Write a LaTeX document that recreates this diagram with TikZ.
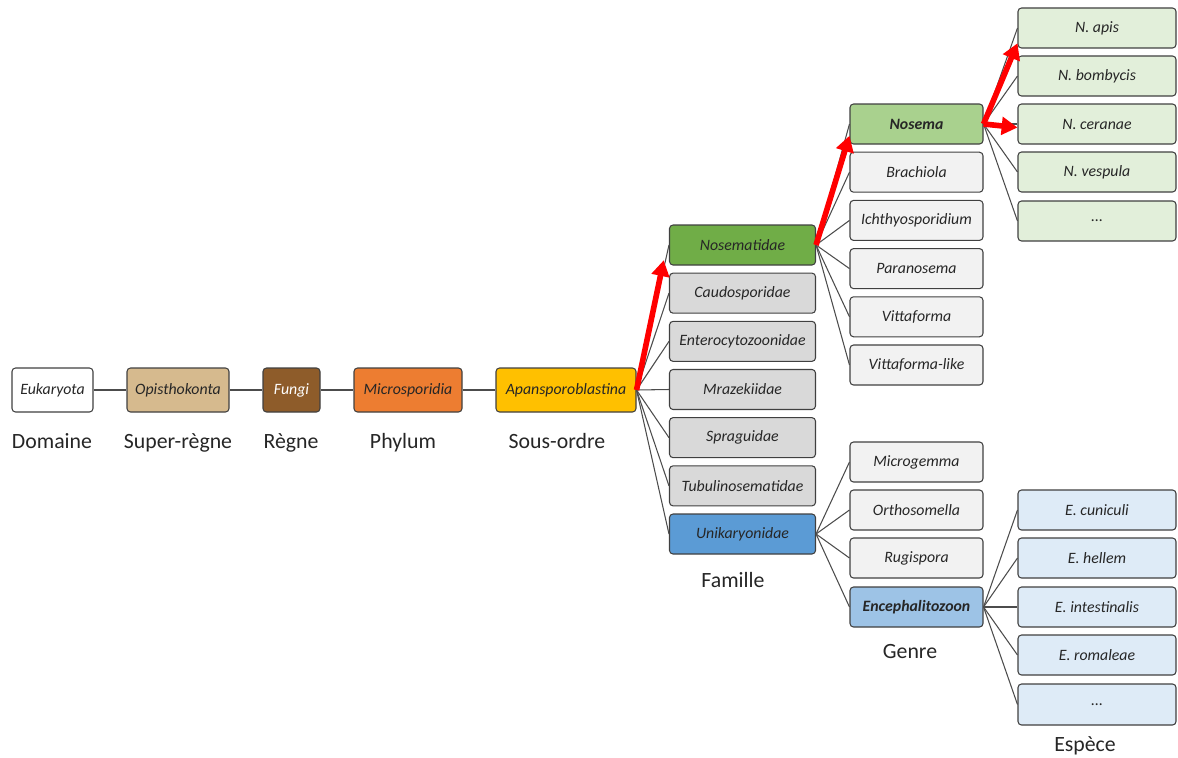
\documentclass[tikz,border=0pt]{standalone}
\usepackage{fontspec}
\setmainfont{Carlito}
\usetikzlibrary{arrows.meta}

\definecolor{tanbox}{RGB}{214,186,142}
\definecolor{fungibrown}{RGB}{142,92,42}
\definecolor{orangebox}{RGB}{237,125,49}
\definecolor{goldbox}{RGB}{255,192,0}
\definecolor{greendark}{RGB}{112,173,71}
\definecolor{greenmid}{RGB}{169,209,142}
\definecolor{greenlight}{RGB}{226,239,218}
\definecolor{bluedark}{RGB}{91,155,213}
\definecolor{bluemid}{RGB}{157,195,230}
\definecolor{bluelight}{RGB}{222,235,247}
\definecolor{graymid}{RGB}{217,217,217}
\definecolor{graylight}{RGB}{242,242,242}

\begin{document}
\begin{tikzpicture}[
    taxon/.style={draw=black!75, rounded corners=2pt, line width=0.6pt, inner sep=1pt,
        minimum height=0.8cm, text=black!85, font=\fontsize{9}{10}\selectfont\itshape},
    rankbox/.style={taxon, minimum height=0.88cm},
    family/.style={taxon, minimum width=2.92cm},
    genus/.style={taxon, minimum width=2.66cm},
    species/.style={taxon, minimum width=3.16cm},
    rank/.style={anchor=base, text=black!85, font=\fontsize{12.4}{14}\selectfont},
    link/.style={black!70, line width=0.6pt},
    path/.style={red, line width=3.2pt, -{Triangle[length=9pt, width=10pt]}}
]
    \useasboundingbox (0,0) rectangle (23.56,15.14);

    % ranks
    \node[rankbox, fill=white, minimum width=1.62cm] (euk) at (1.05,7.34) {Eukaryota};
    \node[rankbox, fill=tanbox, minimum width=2.04cm] (opi) at (3.56,7.34) {Opisthokonta};
    \node[rankbox, fill=fungibrown, text=white, minimum width=1.14cm] (fun) at (5.83,7.34) {Fungi};
    \node[rankbox, fill=orangebox, minimum width=2.16cm] (mic) at (8.16,7.34) {Microsporidia};
    \node[rankbox, fill=goldbox, minimum width=2.8cm] (apa) at (11.32,7.34) {Apansporoblastina};

    \node[rank] (domaine) at (1.04,6.18) {Domaine};
    \node[rank] (superregne) at (3.56,6.18) {Super-règne};
    \node[rank] (regne) at (5.82,6.18) {Règne};
    \node[rank] (phylum) at (8.06,6.18) {Phylum};
    \node[rank] (sousordre) at (11.14,6.18) {Sous-ordre};

    % families
    \node[family, fill=greendark] (nosematidae) at (14.85,10.24) {Nosematidae};
    \node[family, fill=graymid] (caudo) at (14.85,9.277) {Caudosporidae};
    \node[family, fill=graymid] (entero) at (14.85,8.313) {Enterocytozoonidae};
    \node[family, fill=graymid] (mrazek) at (14.85,7.35) {Mrazekiidae};
    \node[family, fill=graymid] (sprag) at (14.85,6.387) {Spraguidae};
    \node[family, fill=graymid] (tubul) at (14.85,5.423) {Tubulinosematidae};
    \node[family, fill=bluedark] (unik) at (14.85,4.46) {Unikaryonidae};
    \node[rank] (famille) at (14.66,3.4) {Famille};

    % genera
    \node[genus, fill=greenmid, font=\fontsize{9}{10}\selectfont\bfseries\itshape] (nosema) at (18.33,12.66) {Nosema};
    \node[genus, fill=graylight] (brach) at (18.33,11.696) {Brachiola};
    \node[genus, fill=graylight] (ichthy) at (18.33,10.732) {Ichthyosporidium};
    \node[genus, fill=graylight] (parano) at (18.33,9.768) {Paranosema};
    \node[genus, fill=graylight] (vitta) at (18.33,8.804) {Vittaforma};
    \node[genus, fill=graylight] (vittalike) at (18.33,7.84) {Vittaforma-like};

    \node[genus, fill=graylight] (microg) at (18.33,5.9) {Microgemma};
    \node[genus, fill=graylight] (ortho) at (18.33,4.94) {Orthosomella};
    \node[genus, fill=graylight] (rugis) at (18.33,3.98) {Rugispora};
    \node[genus, fill=bluemid, font=\fontsize{9}{10}\selectfont\bfseries\itshape] (enceph) at (18.33,3.0) {Encephalitozoon};
    \node[rank] (genre) at (18.2,1.98) {Genre};

    % species
    \node[species, fill=greenlight] (napis) at (21.94,14.58) {N. apis};
    \node[species, fill=greenlight] (nbomb) at (21.94,13.62) {N. bombycis};
    \node[species, fill=greenlight] (ncer) at (21.94,12.66) {N. ceranae};
    \node[species, fill=greenlight] (nvesp) at (21.94,11.7) {N. vespula};
    \node[species, fill=greenlight] (ndots) at (21.94,10.72) {...};

    \node[species, fill=bluelight] (ecun) at (21.94,4.94) {E. cuniculi};
    \node[species, fill=bluelight] (ehel) at (21.94,3.98) {E. hellem};
    \node[species, fill=bluelight] (eint) at (21.94,3.0) {E. intestinalis};
    \node[species, fill=bluelight] (erom) at (21.94,2.04) {E. romaleae};
    \node[species, fill=bluelight, minimum height=0.82cm] (edots) at (21.94,1.05) {...};
    \node[rank] (espece) at (21.7,0.12) {Espèce};

    % links
    \draw[link] (euk) -- (opi);
    \draw[link] (opi) -- (fun);
    \draw[link] (fun) -- (mic);
    \draw[link] (mic) -- (apa);
    \foreach \f in {nosematidae,caudo,entero,mrazek,sprag,tubul,unik}
        \draw[link] (apa.east) -- (\f.west);
    \foreach \g in {nosema,brach,ichthy,parano,vitta,vittalike}
        \draw[link] (nosematidae.east) -- (\g.west);
    \foreach \g in {microg,ortho,rugis,enceph}
        \draw[link] (unik.east) -- (\g.west);
    \foreach \s in {napis,nbomb,ncer,nvesp,ndots}
        \draw[link] (nosema.east) -- (\s.west);
    \foreach \s in {ecun,ehel,eint,erom,edots}
        \draw[link] (enceph.east) -- (\s.west);

    % path to N. ceranae
    \draw[path] (apa.east) -- ([xshift=-3pt, yshift=3pt]nosematidae.south west);
    \draw[path] (nosematidae.east) -- ([yshift=5pt]nosema.south west);
    \draw[path] (nosema.east) -- ([yshift=3pt]napis.south west);
    \draw[path] (nosema.east) -- ([yshift=-2pt]ncer.west);
\end{tikzpicture}
\end{document}
